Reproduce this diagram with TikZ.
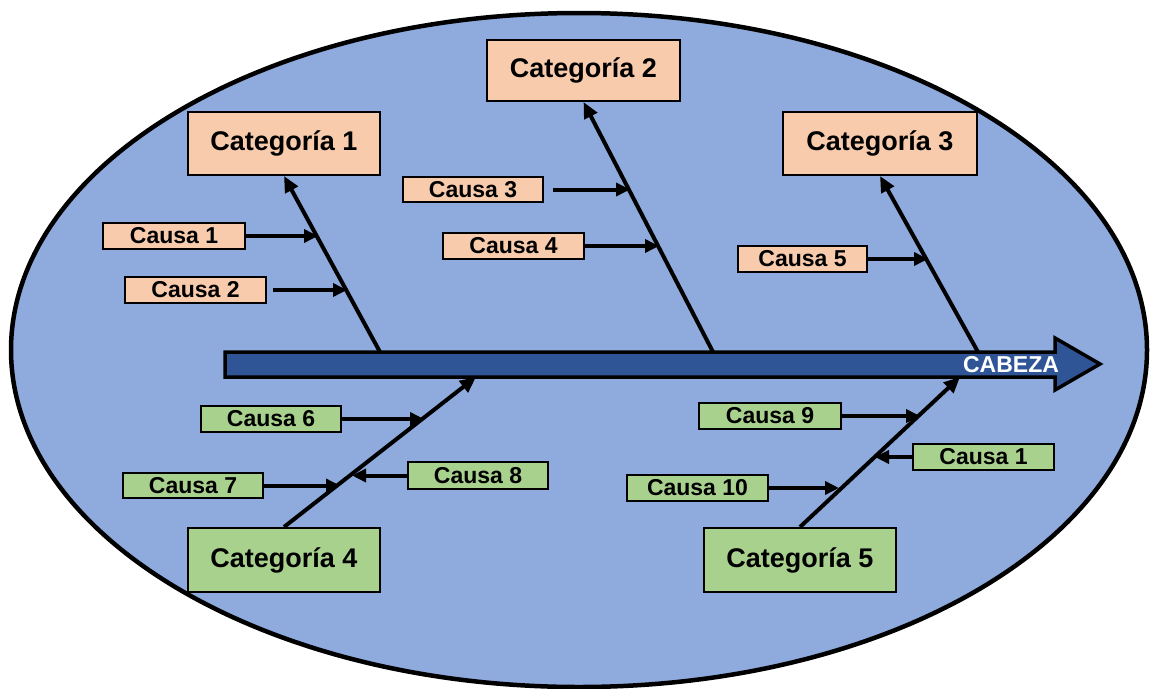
\documentclass[tikz,border=0pt]{standalone}
\usepackage{fontspec}
\setmainfont{Liberation Sans}
\usetikzlibrary{arrows.meta}
\definecolor{skyfill}{HTML}{8FAADC}
\definecolor{peach}{HTML}{F8CBAD}
\definecolor{leaf}{HTML}{A9D18E}
\definecolor{spinefill}{HTML}{2F5597}
\begin{document}
\begin{tikzpicture}[x=1pt,y=-1pt,
  catbox/.style={draw=black,line width=2pt,minimum width=192pt,minimum height=63pt,
    inner sep=0pt,font=\fontsize{27}{30}\selectfont\bfseries},
  causebox/.style={draw=black,line width=1.8pt,minimum width=141pt,minimum height=26pt,
    inner sep=0pt,font=\fontsize{23}{24}\selectfont\bfseries},
  bone/.style={line width=4pt,-{Triangle[length=16pt,width=14pt]}},
  twig/.style={line width=4pt,-{Triangle[length=14pt,width=13pt]}}]
\useasboundingbox (0,0) rectangle (1150,688);

% background ellipse
\draw[fill=skyfill,line width=4.5pt] (579,350) ellipse [x radius=568, y radius=337];

% main spine with head
\draw[fill=spinefill,line width=3.5pt,line join=miter]
  (225,352) -- (1055,352) -- (1055,338) -- (1100,364) -- (1055,390)
  -- (1055,377) -- (225,377) -- cycle;
\node[text=white,font=\fontsize{23}{24}\selectfont\bfseries,inner sep=0pt] (head) at (1011,365) {CABEZA};

% points where the bones meet the spine
\coordinate (s1) at (380,352);
\coordinate (s2) at (713,352);
\coordinate (s3) at (978,352);
\coordinate (s4) at (476,377);
\coordinate (s5) at (960,377);

% category boxes
\node[catbox,fill=peach] (cat1) at (284,143.5) {Categoría 1};
\node[catbox,fill=peach,minimum height=61pt,minimum width=193pt] (cat2) at (583.5,70.5) {Categoría 2};
\node[catbox,fill=peach,minimum width=194pt] (cat3) at (880,143.5) {Categoría 3};
\node[catbox,fill=leaf,minimum height=64pt] (cat4) at (284,560) {Categoría 4};
\node[catbox,fill=leaf,minimum height=64pt] (cat5) at (800,560) {Categoría 5};

% cause boxes
\node[causebox,fill=peach,minimum width=142pt] (c1) at (174,236) {Causa 1};
\node[causebox,fill=peach] (c2) at (195.5,290) {Causa 2};
\node[causebox,fill=peach,minimum width=140pt,minimum height=25pt] (c3) at (473,189.5) {Causa 3};
\node[causebox,fill=peach] (c4) at (513.5,246) {Causa 4};
\node[causebox,fill=peach,minimum width=129pt] (c5) at (802.5,259) {Causa 5};
\node[causebox,fill=leaf,minimum width=140pt] (c6) at (271,419) {Causa 6};
\node[causebox,fill=leaf,minimum width=140pt,minimum height=25pt] (c7) at (193,485.5) {Causa 7};
\node[causebox,fill=leaf,minimum width=140pt,minimum height=27pt] (c8) at (478,475.5) {Causa 8};
\node[causebox,fill=leaf,minimum width=142pt] (c9) at (770,416) {Causa 9};
\node[causebox,fill=leaf] (c10) at (697.5,488) {Causa 10};
\node[causebox,fill=leaf] (c11) at (983.5,457) {Causa 1};

% bones
\draw[bone] (s1) -- (cat1.south);
\draw[bone] (s2) -- (cat2.south);
\draw[bone] (s3) -- (cat3.south);
\draw[bone] (cat4.north) -- (s4);
\draw[bone] (cat5.north) -- (s5);

% where each cause arrow meets its bone
\coordinate (t1) at (318,236);
\coordinate (t2) at (347,290);
\coordinate (t3) at (630,189.5);
\coordinate (t4) at (659,246);
\coordinate (t5) at (928,259);
\coordinate (t6) at (424,419);
\coordinate (t7) at (340,485.5);
\coordinate (t8) at (352,475.5);
\coordinate (t9) at (920,416);
\coordinate (t10) at (839,488);
\coordinate (t11) at (875,457);

% cause arrows
\draw[twig] (c1.east) -- (t1);
\draw[twig,shorten <=6pt] (c2.east) -- (t2);
\draw[twig,shorten <=9pt] (c3.east) -- (t3);
\draw[twig] (c4.east) -- (t4);
\draw[twig] (c5.east) -- (t5);
\draw[twig] (c6.east) -- (t6);
\draw[twig] (c7.east) -- (t7);
\draw[twig] (c8.west) -- (t8);
\draw[twig] (c9.east) -- (t9);
\draw[twig] (c10.east) -- (t10);
\draw[twig] (c11.west) -- (t11);
\end{tikzpicture}
\end{document}
